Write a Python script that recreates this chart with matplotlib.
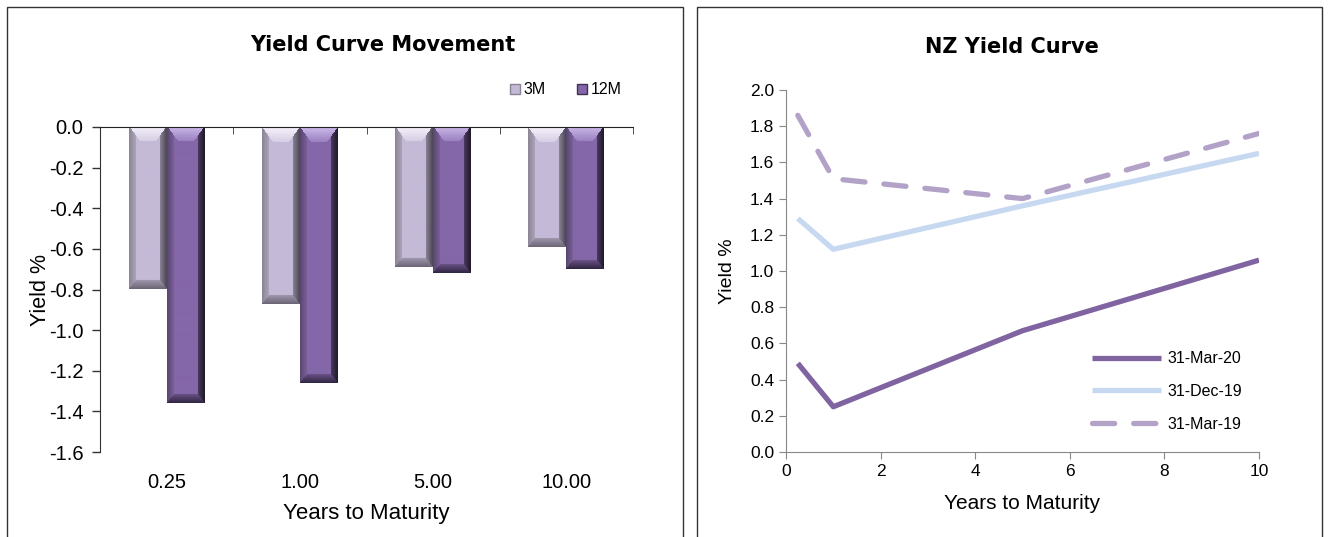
import numpy as np
import matplotlib
matplotlib.use("Agg")
from matplotlib import pyplot as plt
from matplotlib.patches import Rectangle, Patch
import matplotlib.colors as mcolors

plt.rcParams['font.family'] = ['Liberation Sans', 'DejaVu Sans']

# bar chart data
maturities = ['0.25', '1.00', '5.00', '10.00']
chg_3m = [-0.80, -0.87, -0.69, -0.59]
chg_12m = [-1.36, -1.26, -0.72, -0.70]

# yield curve data
curve_years = [0.25, 1, 5, 10]
mar20 = [0.49, 0.25, 0.67, 1.06]
dec19 = [1.29, 1.12, 1.36, 1.65]
mar19 = [1.86, 1.51, 1.40, 1.76]

c3m = '#C4BAD6'
c12m = '#8467A8'
c_mar20 = '#8064A2'
c_dec19 = '#C6D9F1'
c_mar19 = '#B3A2C7'

# facet shades (inner, outer) for the bevelled bars
shades = {
    c3m: dict(top=('#D6CEE4', '#F6F2FC'), left=('#ACA4BA', '#8A8494'),
              right=('#8A8296', '#4A4552'), bottom=('#A098AE', '#6A6474')),
    c12m: dict(top=('#9A80C0', '#CDBBEA'), left=('#7A6098', '#574670'),
               right=('#4A3A60', '#1E1828'), bottom=('#6A5288', '#2E2540')),
}

fig = plt.figure(figsize=(13.28, 5.37), dpi=100)

# panel frames
fig.patches.append(Rectangle((7 / 1328, -0.05), 676 / 1328, 1 - 7 / 537 + 0.05,
                             transform=fig.transFigure, fill=False, ec='#333333', lw=1.0))
fig.patches.append(Rectangle((697 / 1328, -0.05), 625 / 1328, 1 - 7 / 537 + 0.05,
                             transform=fig.transFigure, fill=False, ec='#333333', lw=1.0))


def rgb(c):
    return np.array(mcolors.to_rgb(c))


def bevel_bar(ax, x0, width, value, color, px_per_x, px_per_y):
    """fill a bar with a bevelled look: light top, grey left, dark right and bottom"""
    base = rgb(color)
    sh = shades[color]
    w_px = max(int(round(width * px_per_x)), 2)
    h_px = max(int(round(abs(value) * px_per_y)), 2)
    bx, bt, bb = 7.0, 15.0, 9.0
    jj, ii = np.meshgrid(np.arange(w_px) + 0.5, np.arange(h_px) + 0.5)
    side = np.minimum(jj, w_px - jj)
    # top facet is a trapezoid with slanted sides from the corners
    d_top = np.where(ii / bt < side / 11.0, ii / bt, 9.0)
    d = np.stack([d_top, (h_px - ii) / bb, jj / bx, (w_px - jj) / bx])
    which = np.argmin(d, axis=0)
    dmin = np.min(d, axis=0)
    img = np.tile(base, (h_px, w_px, 1))
    t = np.clip(1 - dmin, 0, 1)[..., None]
    for k, name in enumerate(['top', 'bottom', 'left', 'right']):
        inner, outer = rgb(sh[name][0]), rgb(sh[name][1])
        facet = inner * (1 - t) + outer * t
        m = (which == k) & (dmin < 1)
        img[m] = facet[m]
    ax.imshow(img, extent=(x0, x0 + width, value, 0), aspect='auto',
              interpolation='bilinear', zorder=3)


# ---- left: yield curve movement ----
ax1 = fig.add_axes([100 / 1328, 1 - 452 / 537, 533 / 1328, 325 / 537])
x = np.arange(len(maturities))
bw = 0.285
ax1.set_xlim(-0.5, len(maturities) - 0.5)
ax1.set_ylim(-1.6, 0)
px_x = 533 / len(maturities)
px_y = 325 / 1.6
for i in range(len(maturities)):
    bevel_bar(ax1, x[i] - bw, bw, chg_3m[i], c3m, px_x, px_y)
    bevel_bar(ax1, x[i], bw, chg_12m[i], c12m, px_x, px_y)

yt = np.round(np.arange(-1.6, 0.01, 0.2), 1)
ax1.set_yticks(yt)
ax1.set_yticklabels([f'{v:.1f}'.replace('-0.0', '0.0') for v in yt], fontsize=14.5)
ax1.set_xticks(x)
ax1.set_xticklabels(maturities, fontsize=14.5)
ax1.set_xticks(np.arange(-0.5, len(maturities), 1), minor=True)
ax1.tick_params(axis='x', which='major', length=0, pad=15)
ax1.tick_params(axis='x', which='minor', bottom=False, top=True, direction='in',
                length=5, color='#333333')
ax1.tick_params(axis='y', length=6, color='#333333', width=1, pad=6)
for s in ['right', 'bottom']:
    ax1.spines[s].set_visible(False)
ax1.spines['left'].set_color('#333333')
ax1.spines['top'].set_color('#222222')
ax1.spines['top'].set_zorder(5)
ax1.set_ylabel('Yield %', fontsize=15.5)
ax1.yaxis.set_label_coords(-0.092, 0.5)
ax1.set_xlabel('Years to Maturity', fontsize=16, labelpad=8)

handles = [Patch(facecolor=c3m, edgecolor='#8A8494'), Patch(facecolor=c12m, edgecolor='#3E3152')]
ax1.legend(handles, ['3M', '12M'], ncol=2, frameon=False, fontsize=11.5,
           handlelength=0.6, handleheight=0.6, handletextpad=0.25, columnspacing=1.95,
           loc='center right', bbox_to_anchor=(636 / 1328, 1 - 90 / 537),
           bbox_transform=fig.transFigure)

fig.text(383 / 1328, 1 - 45 / 537, 'Yield Curve Movement', ha='center', va='center',
         fontsize=15, fontweight='bold', family='DejaVu Sans')

# ---- right: NZ yield curve ----
ax2 = fig.add_axes([786 / 1328, 1 - 452 / 537, 473 / 1328, 362 / 537])
ax2.plot(curve_years, mar20, color=c_mar20, lw=3.8, label='31-Mar-20', solid_capstyle='butt')
ax2.plot(curve_years, dec19, color=c_dec19, lw=3.8, label='31-Dec-19', solid_capstyle='butt')
ax2.plot(curve_years, mar19, color=c_mar19, lw=3.8, label='31-Mar-19',
         dashes=(4.2, 3.6), dash_capstyle='round')
ax2.set_xlim(0, 10)
ax2.set_ylim(0, 2.0)
ax2.set_xticks(np.arange(0, 11, 2))
yt2 = np.round(np.arange(0, 2.01, 0.2), 1)
ax2.set_yticks(yt2)
ax2.set_yticklabels([f'{v:.1f}' for v in yt2], fontsize=12.5)
ax2.set_xticklabels([str(v) for v in range(0, 11, 2)], fontsize=12.5)
for s in ['right', 'top']:
    ax2.spines[s].set_visible(False)
for s in ['left', 'bottom']:
    ax2.spines[s].set_color('#888888')
ax2.tick_params(length=5, color='#888888')
ax2.set_ylabel('Yield %', fontsize=14)
ax2.yaxis.set_label_coords(-0.105, 0.5)
ax2.set_xlabel('Years to Maturity', fontsize=15, labelpad=11)
ax2.legend(frameon=False, fontsize=11.5, handlelength=4.3, handletextpad=0.4,
           labelspacing=1.1, loc='upper left', bbox_to_anchor=(1078 / 1328, 1 - 337 / 537),
           bbox_transform=fig.transFigure)

fig.text(1012 / 1328, 1 - 47 / 537, 'NZ Yield Curve', ha='center', va='center',
         fontsize=15, fontweight='bold', family='DejaVu Sans')

fig.savefig('out.png', dpi=100)
